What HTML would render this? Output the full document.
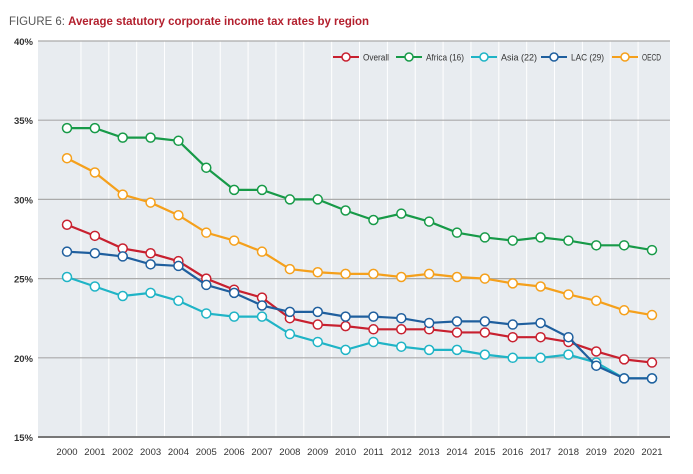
<!DOCTYPE html>
<html><head><meta charset="utf-8"><style>
body{margin:0;background:#fff;width:693px;height:469px;overflow:hidden;font-family:"Liberation Sans",sans-serif}
</style></head><body>
<svg id="c" width="693" height="469">
<text x="9" y="25" font-size="11.5" fill="#555" textLength="360" lengthAdjust="spacingAndGlyphs">FIGURE 6: <tspan font-weight="bold" fill="#b3202e">Average statutory corporate income tax rates by region</tspan></text>
<rect x="38" y="41" width="632" height="396" fill="#e8ecf0"/>
<g id="grid"></g><g id="series"></g><g id="legend"></g>
</svg>
<script>
const years=["2000","2001","2002","2003","2004","2005","2006","2007","2008","2009","2010","2011","2012","2013","2014","2015","2016","2017","2018","2019","2020","2021"];
const yTicks=[15,20,25,30,35,40];
const overall=[28.4,27.7,26.9,26.6,26.1,25.0,24.3,23.8,22.5,22.1,22.0,21.8,21.8,21.8,21.6,21.6,21.3,21.3,21.0,20.4,19.9,19.7];
const africa=[34.5,34.5,33.9,33.9,33.7,32.0,30.6,30.6,30.0,30.0,29.3,28.7,29.1,28.6,27.9,27.6,27.4,27.6,27.4,27.1,27.1,26.8];
const asia=[25.1,24.5,23.9,24.1,23.6,22.8,22.6,22.6,21.5,21.0,20.5,21.0,20.7,20.5,20.5,20.2,20.0,20.0,20.2,19.7,18.7,18.7];
const lac=[26.7,26.6,26.4,25.9,25.8,24.6,24.1,23.3,22.9,22.9,22.6,22.6,22.5,22.2,22.3,22.3,22.1,22.2,21.3,19.5,18.7,18.7];
const oecd=[32.6,31.7,30.3,29.8,29.0,27.9,27.4,26.7,25.6,25.4,25.3,25.3,25.1,25.3,25.1,25.0,24.7,24.5,24.0,23.6,23.0,22.7];
const seriesNames=["Overall","Africa (16)","Asia (22)","LAC (29)","OECD"];
const colors=["#c8202f","#179a48","#1fb4c6","#1f5f9e","#f5a01b"];
const X=i=>67+i*27.857, Y=v=>41+(40-v)*15.84;
const NS="http://www.w3.org/2000/svg";
function mk(t,a,p){const e=document.createElementNS(NS,t);for(const k in a)e.setAttribute(k,a[k]);p.appendChild(e);return e;}
const g=document.getElementById('grid');
years.forEach((y,i)=>{
 if(i>0){const l=mk('line',{x1:X(i)-13.9,x2:X(i)-13.9,y1:41,y2:437,stroke:'#fff','stroke-width':1},g);
 }
 const t=mk('text',{x:X(i),y:455,'font-size':9.5,'text-anchor':'middle',fill:'#333'},g);t.textContent=y;
 
});
yTicks.forEach(v=>{
 const l=mk('line',{x1:38,x2:670,y1:Y(v),y2:Y(v),stroke:v==15?'#777':'#aaa','stroke-width':v==15?2:1.2},g);
 
 const t=mk('text',{x:33,y:Y(v)+4,'font-size':9.5,'text-anchor':'end',fill:'#333','font-weight':'bold'},g);t.textContent=v+'%';
 
});
const data=[overall,africa,asia,lac,oecd];
const s=document.getElementById('series');
data.forEach((d,k)=>{
 const gr=mk('g',{},s);
 
 
 const p=mk('polyline',{points:d.map((v,i)=>X(i)+','+Y(v)).join(' '),fill:'none',stroke:colors[k],'stroke-width':2.2},gr);
 
 d.forEach((v,i)=>{const c=mk('circle',{cx:X(i),cy:Y(v),r:4.5,fill:'#fff',stroke:colors[k],'stroke-width':1.5},gr);
 });
});
const lg=document.getElementById('legend');
const lx=[333,396,471,541,612], tw=[26,38,36,33,19];
seriesNames.forEach((n,k)=>{
 const e=mk('g',{},lg);
 
 mk('line',{x1:lx[k],x2:lx[k]+26,y1:57,y2:57,stroke:colors[k],'stroke-width':2},e);
 mk('circle',{cx:lx[k]+13,cy:57,r:4,fill:'#fff',stroke:colors[k],'stroke-width':1.5},e);
 const t=mk('text',{x:lx[k]+30,y:60.5,'font-size':9,fill:'#333',textLength:tw[k],lengthAdjust:'spacingAndGlyphs'},e);t.textContent=n;
});
</script>
</body></html>
